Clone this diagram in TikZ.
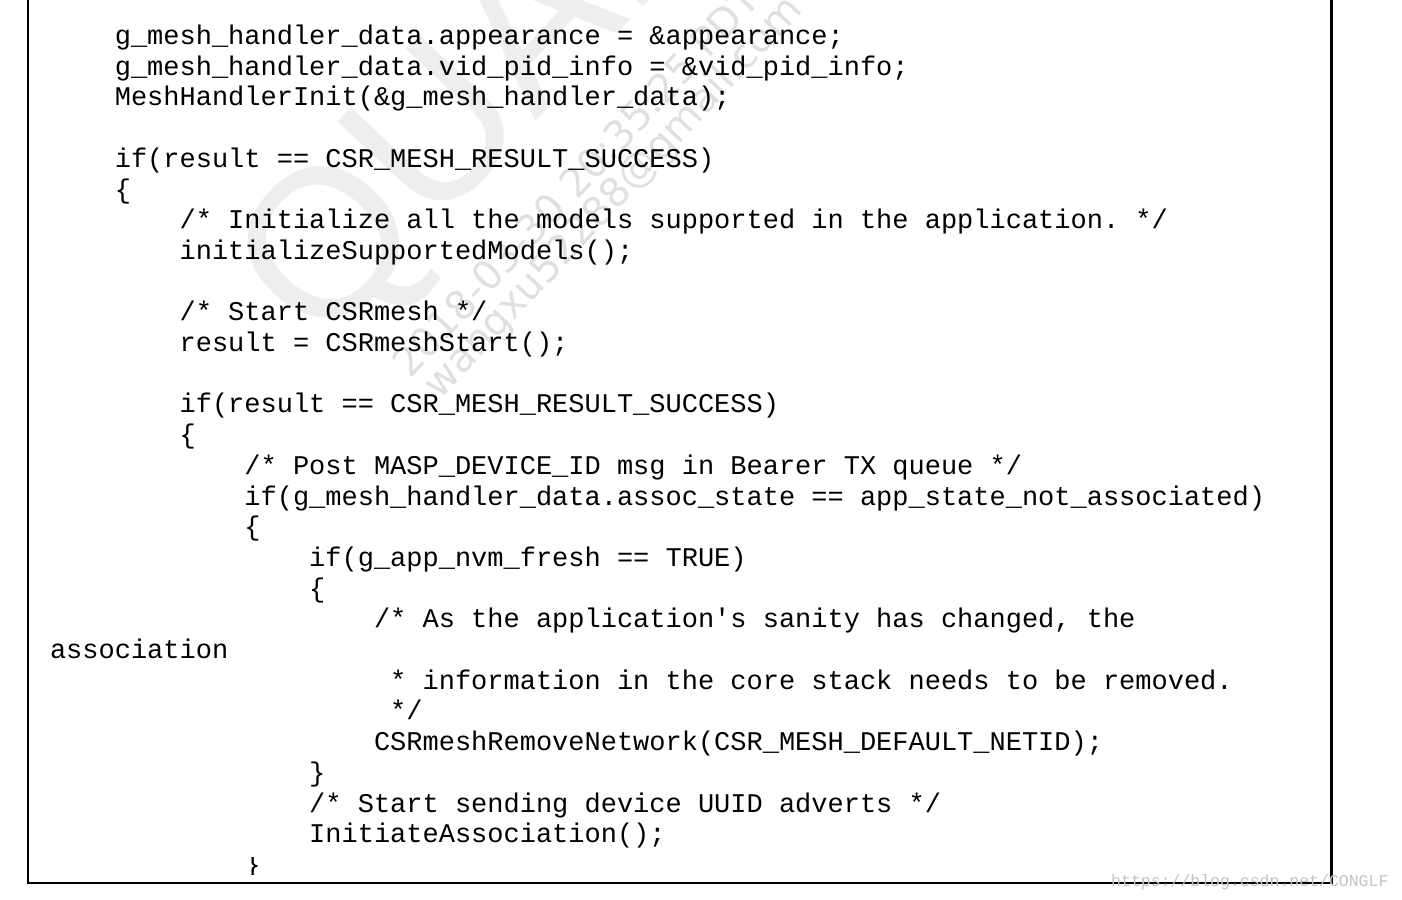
\documentclass[tikz,border=0pt]{standalone}
\usepackage{fontspec}
\setmonofont{Liberation Mono}
\newfontfamily\logofont{Liberation Sans}
\newfontfamily\stampfont{DejaVu Sans}
\usetikzlibrary{positioning}

\definecolor{logogray}{HTML}{EEEEEE}
\definecolor{stampgray}{HTML}{E0E0E0}
\definecolor{urlgray}{HTML}{C4C4C4}

\tikzset{
  codeline/.style={font=\ttfamily\fontsize{27}{30}\selectfont,anchor=base west,
                   inner sep=0pt,outer sep=0pt,text=black},
  stamp/.style={font=\stampfont\fontsize{40}{40}\selectfont,anchor=base west,
                inner sep=0pt,text=stampgray,rotate=47},
  frame/.style={draw=black,line width=2.5pt}
}

\begin{document}
\begin{tikzpicture}[x=1pt,y=-1pt]
  \useasboundingbox (0,0) rectangle (1402,899);

  % watermark behind the listing
  \begin{scope}
    \clip (0,0) rectangle (1402,899);
    \node[font=\logofont\fontsize{210}{210}\selectfont,anchor=base west,
          inner sep=0pt,text=logogray,rotate=47] (logo) at (321,352) {QUALCOMM};
    \node[stamp] (date) at (410,380) {2018-03-30 20:35:25 PDT};
    \node[stamp] (mail) at (440,401) {wangxu52288@gmail.com};
  \end{scope}

  % the listing, one node per line
  \node[codeline] (l00) at (114.8,44.5)  {g\_mesh\_handler\_data.appearance = \&appearance;};
  \node[codeline] (l01) at (114.8,75.2)  {g\_mesh\_handler\_data.vid\_pid\_info = \&vid\_pid\_info;};
  \node[codeline] (l02) at (114.8,105.9) {MeshHandlerInit(\&g\_mesh\_handler\_data);};
  \node[codeline] (l04) at (114.8,167.3) {if(result == CSR\_MESH\_RESULT\_SUCCESS)};
  \node[codeline] (l05) at (114.8,198.0) {\{};
  \node[codeline] (l06) at (179.6,228.7) {/* Initialize all the models supported in the application. */};
  \node[codeline] (l07) at (179.6,259.4) {initializeSupportedModels();};
  \node[codeline] (l09) at (179.6,320.8) {/* Start CSRmesh */};
  \node[codeline] (l10) at (179.6,351.5) {result = CSRmeshStart();};
  \node[codeline] (l12) at (179.6,412.9) {if(result == CSR\_MESH\_RESULT\_SUCCESS)};
  \node[codeline] (l13) at (179.6,443.6) {\{};
  \node[codeline] (l14) at (244.4,474.3) {/* Post MASP\_DEVICE\_ID msg in Bearer TX queue */};
  \node[codeline] (l15) at (244.4,505.0) {if(g\_mesh\_handler\_data.assoc\_state == app\_state\_not\_associated)};
  \node[codeline] (l16) at (244.4,535.7) {\{};
  \node[codeline] (l17) at (309.2,566.4) {if(g\_app\_nvm\_fresh == TRUE)};
  \node[codeline] (l18) at (309.2,597.1) {\{};
  \node[codeline] (l19) at (374.0,627.8) {/* As the application's sanity has changed, the};
  \node[codeline] (l20) at (50.0,658.5)  {association};
  \node[codeline] (l21) at (390.2,689.2) {* information in the core stack needs to be removed.};
  \node[codeline] (l22) at (390.2,719.9) {*/};
  \node[codeline] (l23) at (374.0,750.6) {CSRmeshRemoveNetwork(CSR\_MESH\_DEFAULT\_NETID);};
  \node[codeline] (l24) at (309.2,781.3) {\}};
  \node[codeline] (l25) at (309.2,812.0) {/* Start sending device UUID adverts */};
  \node[codeline] (l26) at (309.2,842.7) {InitiateAssociation();};
  \begin{scope}
    \clip (0,857) rectangle (1402,874);
    \node[codeline] (l27) at (244.4,873.4) {\}};
  \end{scope}

  % box round the listing, open at the top
  \coordinate (tl) at (28,0);
  \coordinate (tr) at (1331.5,0);
  \draw[frame] (tl) -- (28,883) -- (1331.5,883) -- (tr);

  % site stamp
  \node[font=\ttfamily\fontsize{16.5}{16.5}\selectfont,anchor=base west,inner sep=0pt,
        text=urlgray] (url) at (1111,886) {https://blog.csdn.net/CONGLF};
\end{tikzpicture}
\end{document}
